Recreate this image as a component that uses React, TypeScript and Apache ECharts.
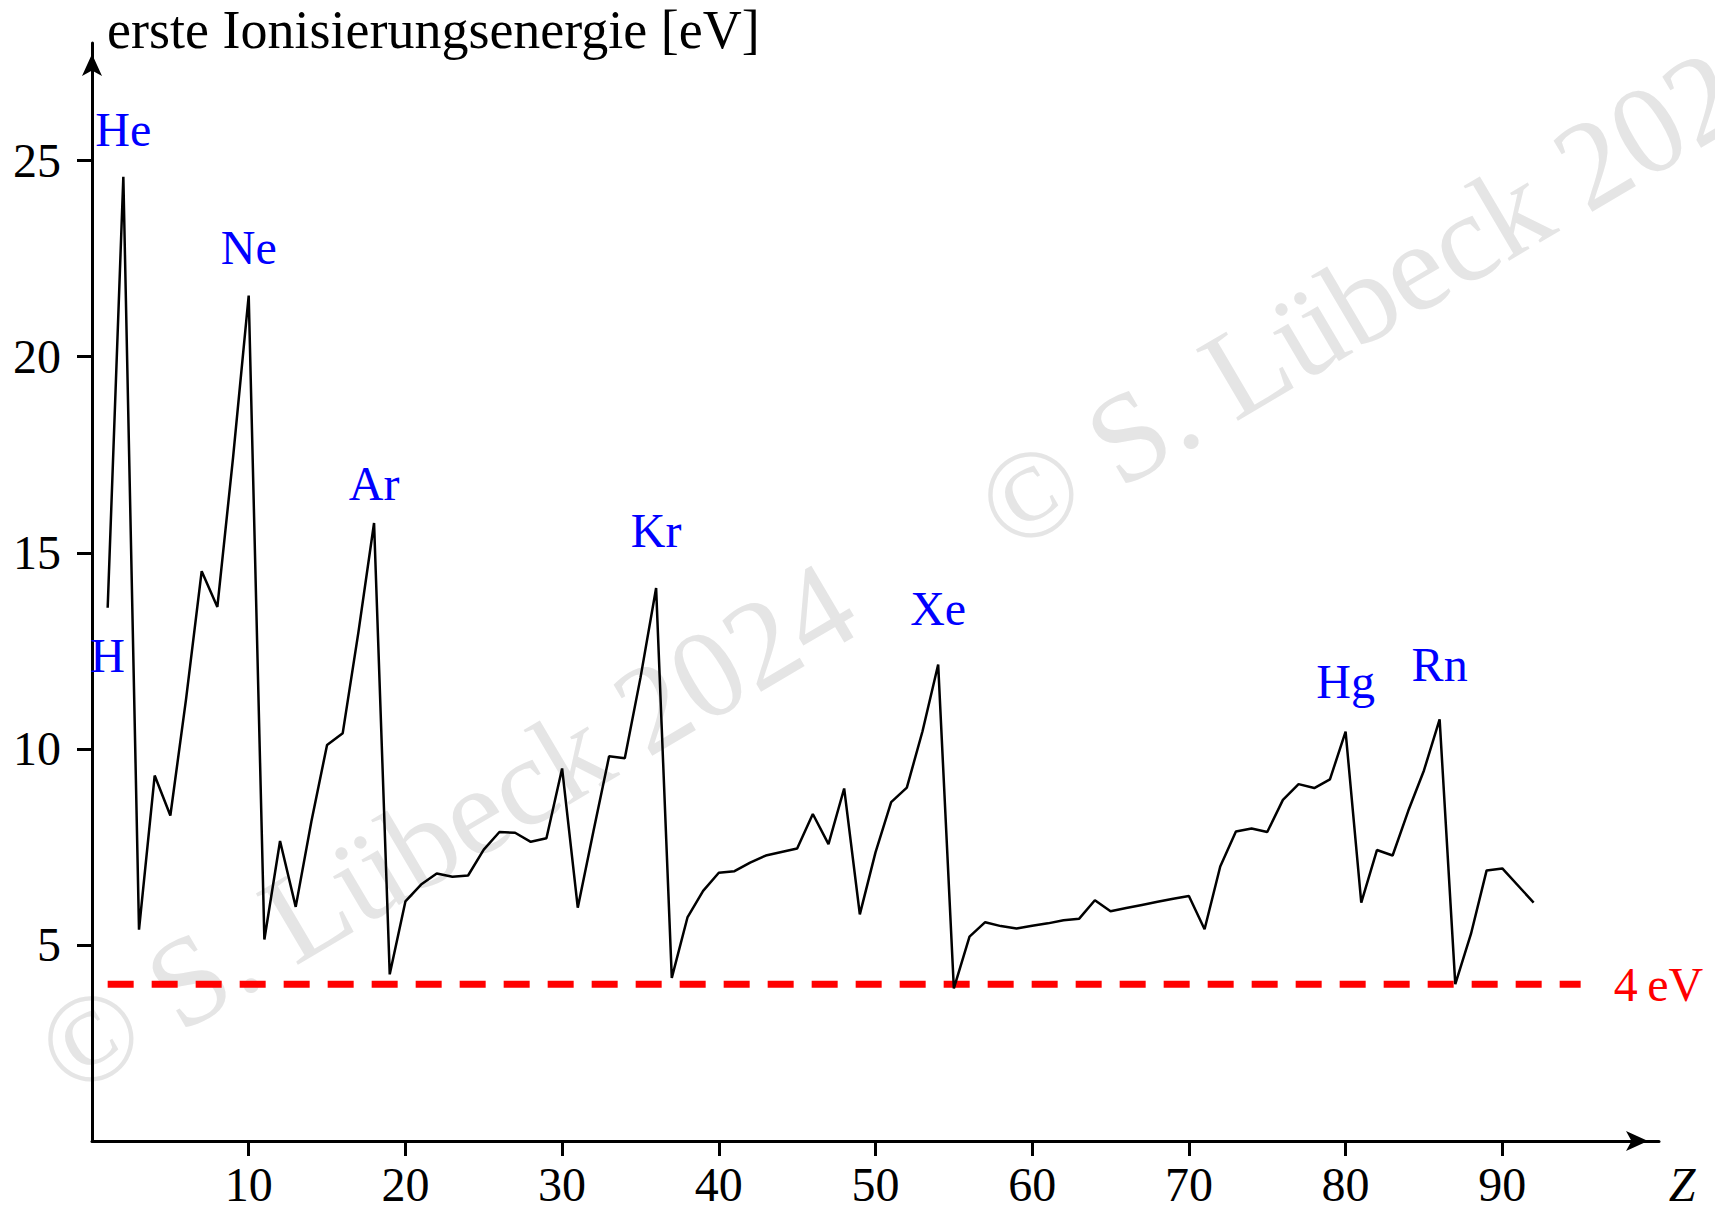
import React, { useEffect, useRef } from "react";
import * as echarts from "echarts";

// Atomic numbers Z (91 has no point in the reference)
const elementZ: number[] = [
  1, 2, 3, 4, 5, 6, 7, 8, 9, 10, 11, 12, 13, 14, 15, 16, 17, 18, 19, 20,
  21, 22, 23, 24, 25, 26, 27, 28, 29, 30, 31, 32, 33, 34, 35, 36, 37, 38, 39, 40,
  41, 42, 43, 44, 45, 46, 47, 48, 49, 50, 51, 52, 53, 54, 55, 56, 57, 58, 59, 60,
  61, 62, 63, 64, 65, 66, 67, 68, 69, 70, 71, 72, 73, 74, 75, 76, 77, 78, 79, 80,
  81, 82, 83, 84, 85, 86, 87, 88, 89, 90, 91, 92,
];

// first ionisation energy [eV]
const ionEnergy: (number | null)[] = [
  13.6, 24.59, 5.39, 9.32, 8.3, 11.26, 14.53, 13.62, 17.42, 21.56,
  5.14, 7.65, 5.97, 8.15, 10.1, 10.4, 12.97, 15.76, 4.25, 6.11,
  6.54, 6.82, 6.74, 6.77, 7.43, 7.88, 7.86, 7.63, 7.72, 9.5,
  5.95, 7.9, 9.81, 9.76, 11.81, 14.1, 4.16, 5.7, 6.38, 6.84,
  6.88, 7.1, 7.28, 7.37, 7.46, 8.34, 7.57, 8.99, 5.78, 7.36,
  8.64, 9.01, 10.45, 12.15, 3.89, 5.21, 5.58, 5.48, 5.42, 5.49,
  5.55, 5.63, 5.67, 6.14, 5.86, 5.94, 6.02, 6.1, 6.18, 6.25,
  5.4, 7.0, 7.89, 7.97, 7.88, 8.7, 9.1, 9.0, 9.22, 10.44,
  6.08, 7.42, 7.28, 8.42, 9.45, 10.75, 4.0, 5.28, 6.9, 6.95,
  null, 6.08,
];

// labelled elements
const peakNames: string[] = ["H", "He", "Ne", "Ar", "Kr", "Xe", "Hg", "Rn"];
const peakZ: number[] = [1, 2, 10, 18, 36, 54, 80, 86];
const peakLabelDy: number[] = [48, -47, -48, -39, -58, -56, -50, -55];

// axis ticks
const xTicks: number[] = [10, 20, 30, 40, 50, 60, 70, 80, 90];
const yTicks: number[] = [5, 10, 15, 20, 25];

// 4 eV reference line
const thresholdEnergy = 4;
const thresholdFromZ = 1;
const thresholdToZ = 95;

const yTitle = "erste Ionisierungsenergie [eV]";
const xTitle = "Z";
const watermark = "\u00A9 S. L\u00FCbeck 2024";

const FONT = '"Liberation Serif", "Times New Roman", serif';

function energyOf(z: number): number {
  const i = elementZ.indexOf(z);
  return ionEnergy[i] as number;
}

export default function App() {
  const ref = useRef<HTMLDivElement>(null);

  useEffect(() => {
    document.body.style.margin = "0";
    if (!ref.current) return;
    const chart = echarts.init(ref.current, undefined, { renderer: "svg" });

    const lineData: number[][] = [];
    elementZ.forEach((z, i) => {
      const v = ionEnergy[i];
      if (v !== null) lineData.push([z, v]);
    });

    const rot = (30.5 * Math.PI) / 180;
    const wmStyle = (x: number, y: number) => ({
      type: "text",
      z: -10,
      silent: true,
      x,
      y,
      rotation: rot,
      style: {
        text: watermark,
        fill: "#e5e5e5",
        font: `126px ${FONT}`,
        align: "center",
        verticalAlign: "middle",
        textAlign: "center",
        textVerticalAlign: "middle",
      },
    });

    const axisCommon = {
      type: "value",
      splitLine: { show: false },
    };

    const option: any = {
      animation: false,
      backgroundColor: "#ffffff",
      grid: { left: 92, right: 56, top: 43, bottom: 69, containLabel: false },
      xAxis: {
        ...axisCommon,
        min: 0,
        max: 100,
        interval: 10,
        axisLine: {
          show: true,
          onZero: false,
          symbol: ["none", "arrow"],
          symbolSize: [15, 22],
          symbolOffset: [0, -11],
          lineStyle: { color: "#000", width: 3 },
        },
        axisTick: {
          show: true,
          inside: false,
          length: 15,
          customValues: xTicks,
          lineStyle: { color: "#000", width: 3 },
        },
        axisLabel: {
          show: true,
          customValues: xTicks,
          margin: 23,
          color: "#000",
          fontFamily: FONT,
          fontSize: 48,
          lineHeight: 40,
        },
      },
      yAxis: {
        ...axisCommon,
        min: 0,
        max: 28,
        interval: 5,
        axisLine: {
          show: true,
          onZero: false,
          symbol: ["none", "arrow"],
          symbolSize: [15, 22],
          symbolOffset: [0, -11],
          lineStyle: { color: "#000", width: 3 },
        },
        axisTick: {
          show: true,
          inside: false,
          length: 15,
          customValues: yTicks,
          lineStyle: { color: "#000", width: 3 },
        },
        axisLabel: {
          show: true,
          customValues: yTicks,
          margin: 31,
          color: "#000",
          fontFamily: FONT,
          fontSize: 48,
          lineHeight: 48,
        },
      },
      series: [
        {
          type: "line",
          data: lineData,
          symbol: "none",
          z: 3,
          lineStyle: { color: "#000", width: 2.5 },
          markPoint: {
            symbol: "circle",
            symbolSize: 1,
            silent: true,
            itemStyle: { color: "rgba(0,0,0,0)" },
            label: {
              show: true,
              position: "inside",
              formatter: "{b}",
              color: "#0000ff",
              fontFamily: FONT,
              fontSize: 48,
            },
            data: peakNames.map((n, i) => ({
              name: n,
              coord: [peakZ[i], energyOf(peakZ[i])],
              label: { offset: [0, peakLabelDy[i]] },
            })),
          },
        },
        {
          type: "line",
          data: [
            [thresholdFromZ, thresholdEnergy],
            [thresholdToZ, thresholdEnergy],
          ],
          symbol: "none",
          z: 2,
          lineStyle: { color: "#ff0000", width: 7, type: [26, 18] },
          endLabel: {
            show: true,
            formatter: "4\u2009eV",
            color: "#ff0000",
            fontFamily: FONT,
            fontSize: 48,
            distance: 33,
          },
        },
      ],
      graphic: [
        wmStyle(446, 828),
        wmStyle(1386, 284),
        {
          type: "text",
          silent: true,
          x: 107,
          y: 30,
          style: {
            text: yTitle,
            fill: "#000",
            font: `54px ${FONT}`,
            lineHeight: 44,
            align: "left",
            verticalAlign: "middle",
            textAlign: "left",
            textVerticalAlign: "middle",
          },
        },
        {
          type: "text",
          silent: true,
          x: 1682,
          y: 1184,
          style: {
            text: xTitle,
            fill: "#000",
            font: `italic 48px ${FONT}`,
            lineHeight: 40,
            align: "center",
            verticalAlign: "middle",
            textAlign: "center",
            textVerticalAlign: "middle",
          },
        },
      ],
    };

    chart.setOption(option);
    return () => chart.dispose();
  }, []);

  return (
    <div
      ref={ref}
      style={{ position: "absolute", left: 0, top: 0, width: 1715, height: 1210 }}
    />
  );
}
